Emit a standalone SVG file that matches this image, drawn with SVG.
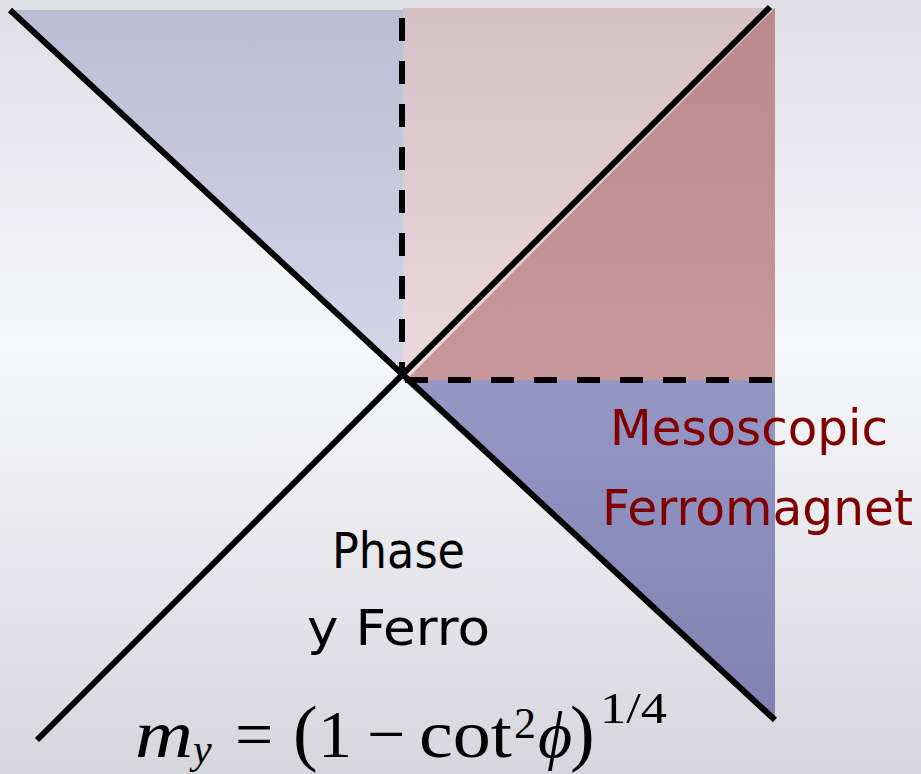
<svg xmlns="http://www.w3.org/2000/svg" width="921" height="774" viewBox="0 0 921 774">
<defs>
<linearGradient id="bg" x1="0" y1="0" x2="0" y2="1">
<stop offset="0" stop-color="#dfdfe5"/>
<stop offset="0.45" stop-color="#f7f8fc"/>
<stop offset="1" stop-color="#d6d6dc"/>
</linearGradient>
<linearGradient id="gTL" x1="0" y1="10" x2="0" y2="378" gradientUnits="userSpaceOnUse">
<stop offset="0" stop-color="#bcbdd4"/>
<stop offset="1" stop-color="#d5d6ea"/>
</linearGradient>
<linearGradient id="gPink" x1="0" y1="8" x2="0" y2="380" gradientUnits="userSpaceOnUse">
<stop offset="0" stop-color="#d6c1c6"/>
<stop offset="1" stop-color="#ecd9dd"/>
</linearGradient>
<linearGradient id="gRose" x1="0" y1="8" x2="0" y2="380" gradientUnits="userSpaceOnUse">
<stop offset="0" stop-color="#ba898c"/>
<stop offset="1" stop-color="#c9979a"/>
</linearGradient>
<linearGradient id="gBR" x1="0" y1="380" x2="0" y2="720" gradientUnits="userSpaceOnUse">
<stop offset="0" stop-color="#9598c5"/>
<stop offset="1" stop-color="#7f81b2"/>
</linearGradient>
</defs>
<style>
.solid{stroke:#000;stroke-width:6;fill:none}
.dash{stroke:#000;stroke-width:6;fill:none;stroke-dasharray:23 20}
.lab{font-family:"DejaVu Sans","Liberation Sans",sans-serif;font-size:50px}
.red{fill:#800000}
.blk{fill:#000}
.m{font-family:"Liberation Serif","DejaVu Serif",serif;fill:#000}
.mi{font-style:italic}
</style>
<rect id="background" x="0" y="0" width="921" height="774" fill="url(#bg)"/>
<g id="region-top-left"><polygon points="10,10 403,10 403,377" fill="url(#gTL)"/></g>
<g id="region-top-right"><rect x="403" y="8" width="372" height="372" fill="url(#gPink)"/></g>
<g id="region-mesoscopic"><polygon points="406,380 775,8 775,380" fill="url(#gRose)"/></g>
<g id="region-bottom-right"><polygon points="403,380 775,380 775,720" fill="url(#gBR)"/></g>
<g id="connectors">
<line class="dash" x1="402" y1="18" x2="402" y2="378"/>
<line class="dash" x1="405" y1="380" x2="775" y2="380"/>
<line class="solid" x1="10" y1="10" x2="775" y2="720"/>
<line class="solid" x1="37" y1="740" x2="770" y2="7"/>
</g>
<g id="label-mesoscopic">
<text class="lab red" x="610" y="445" textLength="278" lengthAdjust="spacingAndGlyphs">Mesoscopic</text>
<text class="lab red" x="602" y="525" textLength="311" lengthAdjust="spacingAndGlyphs">Ferromagnet</text>
</g>
<g id="label-phase">
<text class="lab blk" x="332" y="568" textLength="133" lengthAdjust="spacingAndGlyphs">Phase</text>
<text class="lab blk" x="307" y="645" textLength="183" lengthAdjust="spacingAndGlyphs">y Ferro</text>
</g>
<g id="formula">
<text class="m mi" x="135" y="757" font-size="68" textLength="58" lengthAdjust="spacingAndGlyphs">m</text>
<text class="m mi" x="193" y="763" font-size="42">y</text>
<text class="m" x="235" y="757" font-size="68">=</text>
<text class="m" x="293" y="757" font-size="74">(</text>
<text class="m" x="318" y="757" font-size="68">1</text>
<text class="m" x="367" y="757" font-size="68">−</text>
<text class="m" x="419" y="757" font-size="68" textLength="93" lengthAdjust="spacingAndGlyphs">cot</text>
<text class="m" x="514" y="738" font-size="44">2</text>
<text class="m mi" x="538" y="757" font-size="66">ϕ</text>
<text class="m" x="570" y="757" font-size="74">)</text>
<text class="m" x="600" y="723" font-size="44" textLength="67" lengthAdjust="spacingAndGlyphs">1/4</text>
</g>
</svg>
